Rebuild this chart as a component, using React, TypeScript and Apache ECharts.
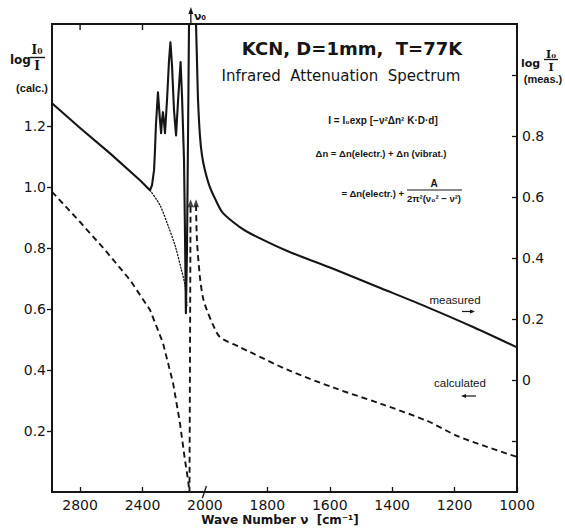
import React, { useEffect, useRef } from 'react';
import * as echarts from 'echarts';

// ---- broken wave-number axis: above 2000 cm^-1 the scale is compressed by 2 ----
const NU_BREAK = 2000;
const toU = (nu: number) => (nu <= NU_BREAK ? nu : NU_BREAK + (nu - NU_BREAK) / 2);

// ---- ticks ----
const xTickNu = [1000, 1200, 1400, 1600, 1800, 2000, 2400, 2800];
const xTopTickNu = [2400, 2800];
const leftTicks = [0.2, 0.4, 0.6, 0.8, 1.0, 1.2];
const rightTicks = [-0.2, 0, 0.2, 0.4, 0.6, 0.8, 1.0];
const rightLabels = [0, 0.2, 0.4, 0.6, 0.8];
const NU0 = 2090;

// ---- measured log(I0/I) (right axis) ----
const measuredNu = [
  2980, 2800, 2608, 2416, 2352, 2339, 2326, 2320, 2314, 2301, 2288, 2281, 2275, 2269, 2262,
  2256, 2243, 2230, 2221, 2211, 2198, 2185, 2172, 2156, 2147, 2134, 2128, 2122, 2115, 2108,
  2102, 2090, 2057, 2051, 2044, 2032, 2019, 2000, 1984, 1965, 1942, 1888, 1856, 1734, 1585,
  1436, 1288, 1139, 1000,
];
const measuredVal = [
  0.908, 0.827, 0.744, 0.656, 0.623, 0.640, 0.689, 0.754, 0.836, 0.944, 0.853, 0.810, 0.853,
  0.879, 0.846, 0.810, 0.918, 1.049, 1.108, 1.033, 0.885, 0.803, 0.918, 1.043, 0.935, 0.722,
  0.492, 0.220, 0.426, 0.820, 1.167, 1.6, 1.167, 1.049, 0.918, 0.803, 0.738, 0.689, 0.633,
  0.590, 0.548, 0.502, 0.482, 0.423, 0.364, 0.302, 0.240, 0.174, 0.108,
];
const MEASURED_SPLIT_NU = 2057; // start of the smooth low-frequency branch

// ---- dotted background under the measured band (right axis) ----
const dottedNu = [2352, 2288, 2237, 2192, 2153, 2128, 2115];
const dottedVal = [0.623, 0.574, 0.508, 0.443, 0.367, 0.312, 0.246];

// ---- calculated log(I0/I) (left axis) ----
const calcLeftNu = [2980, 2800, 2640, 2480, 2352, 2269, 2204, 2160, 2128, 2108, 2099, 2092];
const calcLeftVal = [0.984, 0.885, 0.793, 0.695, 0.597, 0.489, 0.357, 0.226, 0.105, 0.039, 0, 0.94];
const calcRightNu = [2057, 2051, 2032, 2012, 1994, 1974, 1952, 1888, 1856, 1734, 1585, 1436, 1288, 1192, 1096, 1000];
const calcRightVal = [0.94, 0.826, 0.705, 0.636, 0.597, 0.548, 0.508, 0.475, 0.459, 0.400, 0.341, 0.289, 0.233, 0.184, 0.148, 0.115];
const arrowNu = [2092, 2057];
const arrowVal = [0.94, 0.94];

const INK = '#151515';
const FONT = "'DejaVu Sans', sans-serif";
const FORM = "'Liberation Sans', Arial, sans-serif";

export default function App() {
  const ref = useRef<HTMLDivElement>(null);
  useEffect(() => {
    const chart = echarts.init(ref.current!, null, { renderer: 'svg' });
    const labelMap: Record<string, string> = {};
    xTickNu.forEach((n) => (labelMap[String(toU(n))] = String(n)));
    const pts = (xs: number[], ys: number[]) => xs.map((n, i) => [toU(n), ys[i]]);
    const split = measuredNu.indexOf(MEASURED_SPLIT_NU);
    const measA = pts(measuredNu.slice(0, split + 1), measuredVal.slice(0, split + 1));
    const measB = pts(measuredNu.slice(split), measuredVal.slice(split));

    const mkLine = () => ({ show: true, onZero: false, lineStyle: { color: INK, width: 1.8 } });
    const tickStyle = () => ({ color: INK, width: 1.3 });
    const option: any = {
      animation: false,
      backgroundColor: '#ffffff',
      grid: { left: 52, right: 48, top: 24, bottom: 37, show: true, borderColor: INK, borderWidth: 1.8,
        backgroundColor: 'transparent' },
      xAxis: [
        {
          type: 'value', inverse: true, min: 1000, max: 2490, position: 'bottom',
          axisLine: mkLine(),
          axisTick: { show: true, inside: true, length: 5, lineStyle: tickStyle(),
            customValues: xTickNu.filter((n) => n !== 2000).map(toU) },
          axisLabel: { show: true, customValues: xTickNu.map(toU), formatter: (v: number) => labelMap[String(v)] ?? '',
            color: INK, fontSize: 14, fontFamily: FONT, margin: 6 },
          splitLine: { show: false },
        },
      ],
      yAxis: [
        {
          type: 'value', min: 0, max: 1.534, position: 'left',
          axisLine: mkLine(),
          axisTick: { show: true, inside: false, length: 5, lineStyle: tickStyle(), customValues: leftTicks },
          axisLabel: { show: true, customValues: leftTicks, formatter: (v: number) => v.toFixed(1),
            color: INK, fontSize: 14, fontFamily: FONT, margin: 6 },
          splitLine: { show: false },
        },
        {
          type: 'value', min: -0.366, max: 1.168, position: 'right',
          axisLine: mkLine(),
          axisTick: { show: true, inside: true, length: 5, lineStyle: tickStyle(), customValues: rightTicks },
          axisLabel: { show: true, customValues: rightLabels, formatter: (v: number) => (Math.abs(v) < 1e-9 ? '0' : v.toFixed(1)),
            color: INK, fontSize: 14, fontFamily: FONT, margin: 5 },
          splitLine: { show: false },
        },
      ],
      series: [
        { type: 'line', name: 'measured', yAxisIndex: 1, data: measA, symbol: 'none',
          lineStyle: { color: INK, width: 2.1, join: 'round' }, clip: true, z: 4 },
        { type: 'line', name: 'measured-b', yAxisIndex: 1, data: measB, symbol: 'none', smooth: 0.3,
          lineStyle: { color: INK, width: 2.1, join: 'round' }, clip: true, z: 4 },
        { type: 'line', name: 'dotted', yAxisIndex: 1, data: pts(dottedNu, dottedVal), symbol: 'none', smooth: 0.3,
          lineStyle: { color: INK, width: 1.3, type: [1.2, 2], cap: 'round' }, clip: true, z: 3 },
        { type: 'line', name: 'calcLeft', yAxisIndex: 0, data: pts(calcLeftNu, calcLeftVal), symbol: 'none',
          lineStyle: { color: INK, width: 1.9, type: [6, 4] }, clip: true, z: 3 },
        { type: 'line', name: 'calcRight', yAxisIndex: 0, data: pts(calcRightNu, calcRightVal), symbol: 'none',
          smooth: 0.3,
          lineStyle: { color: INK, width: 1.9, type: [6, 4] }, clip: true, z: 3 },
        { type: 'scatter', name: 'arrows', yAxisIndex: 0, data: pts(arrowNu, arrowVal), symbol: 'triangle',
          symbolSize: [6, 8], symbolOffset: [0, -2], itemStyle: { color: INK }, z: 5 },
      ],
    };
    chart.setOption(option);

    const px = (nu: number) => chart.convertToPixel({ xAxisIndex: 0 }, toU(nu)) as number;
    const x0 = px(NU0);
    const xb = px(NU_BREAK);
    const t = (text: string, x: number, y: number, font: string, align = 'center', extra: any = {}) => ({
      type: 'text', x, y, style: { text, font, fill: INK, align, verticalAlign: 'middle', ...extra },
    });
    const ln = (x1: number, y1: number, x2: number, y2: number, w = 1.3, color = INK) => ({
      type: 'line', z: 10, shape: { x1, y1, x2, y2 }, style: { stroke: color, lineWidth: w },
    });
    const tri = (pts2: number[][]) => ({ type: 'polygon', shape: { points: pts2 }, style: { fill: INK } });

    chart.setOption({
      graphic: [
        // top frame line and its ticks
        { type: 'rect', z: 10, shape: { x: 51, y: 23, width: 467, height: 2 }, style: { fill: INK } },
        ...xTopTickNu.map((n) => ln(px(n), 24, px(n), 30, 1.4)),
        // nu0 marker above the frame
        ln(x0, 24, x0, 10, 1.3),
        tri([[x0 - 2.5, 14], [x0 + 2.5, 14], [x0, 7]]),
        t('ν₀', x0 + 3, 16, `bold 11px ${FONT}`, 'left'),
        // axis break at 2000
        ln(xb - 2.5, 498, xb + 1.5, 486, 1.3),
        // left axis title
        t('log', 10, 60, `bold 12px ${FONT}`, 'left'),
        t('I₀', 37, 50, `bold 12px 'DejaVu Serif', serif`),
        ln(30, 57.5, 45, 57.5, 1.4),
        t('I', 37, 66, `bold 12px 'DejaVu Serif', serif`),
        t('(calc.)', 32, 88, `bold 11px ${FORM}`),
        // right axis title
        t('log', 521, 63, `bold 11px ${FONT}`, 'left'),
        t('I₀', 551, 54, `bold 11px 'DejaVu Serif', serif`),
        ln(544, 59.5, 558, 59.5, 1.3),
        t('I', 551, 67, `bold 11px 'DejaVu Serif', serif`),
        t('(meas.)', 543, 79, `bold 11px ${FORM}`),
        // titles
        t('KCN, D=1mm,  T=77K', 352, 48, `bold 18px ${FONT}`),
        t('Infrared  Attenuation  Spectrum', 341, 76, `15px ${FONT}`),
        // formulas
        t('I = I₀exp [−ν²Δn² K·D·d]', 383, 120, `bold 10px ${FORM}`),
        t('Δn = Δn(electr.) + Δn (vibrat.)', 381, 153, `bold 9.5px ${FORM}`),
        t('= Δn(electr.) +', 404, 193, `bold 9.5px ${FORM}`, 'right'),
        t('A', 434, 183, `bold 10px ${FORM}`),
        ln(407, 190, 462, 190, 1.2),
        t('2π²(ν₀² − ν²)', 434, 198, `bold 9.5px ${FORM}`),
        // curve labels
        t('measured', 455, 300, `11.5px ${FORM}`),
        ln(462, 311.5, 473, 311.5, 1.2),
        tri([[470, 309.5], [470, 313.5], [475, 311.5]]),
        t('calculated', 460, 383, `11.5px ${FORM}`),
        ln(463, 396, 476, 396, 1.2),
        tri([[466, 394], [466, 398], [461, 396]]),
        // x axis name
        t('Wave Number ν  [cm⁻¹]', 280, 520, `bold 12px ${FONT}`),
      ],
    });
    return () => chart.dispose();
  }, []);
  return (
    <div
      ref={ref}
      style={{ position: 'fixed', left: 0, top: 0, width: 565, height: 529, background: '#fff' }}
    />
  );
}
